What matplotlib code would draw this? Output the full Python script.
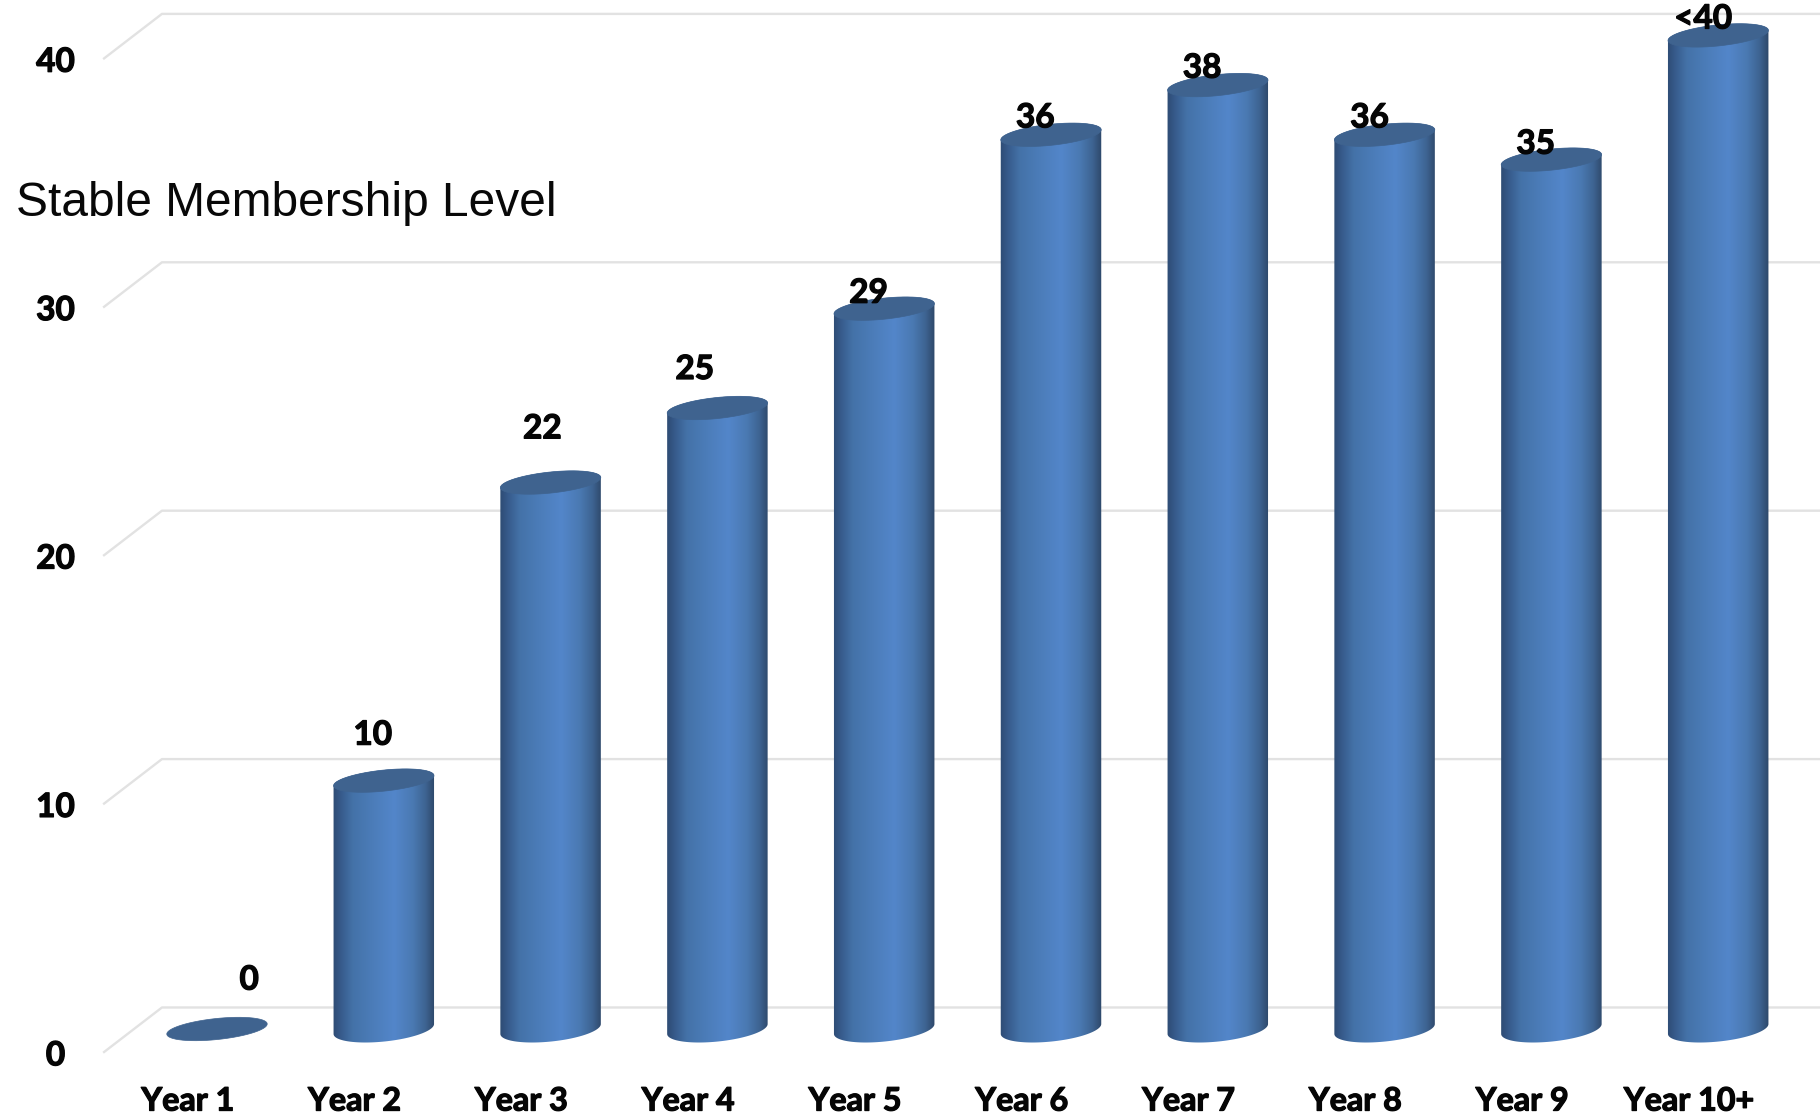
import numpy as np
import matplotlib
matplotlib.use('Agg')
import matplotlib.pyplot as plt
import matplotlib.patheffects as pe
from matplotlib.colors import LinearSegmentedColormap
from matplotlib.patches import PathPatch, Polygon
from matplotlib.path import Path

# datos
years = ['Year 1', 'Year 2', 'Year 3', 'Year 4', 'Year 5', 'Year 6', 'Year 7', 'Year 8', 'Year 9', 'Year 10+']
members = [0, 10, 22, 25, 29, 36, 38, 36, 35, 40]
bar_labels = ['0', '10', '22', '25', '29', '36', '38', '36', '35', '<40']
y_ticks = [0, 10, 20, 30, 40]

# desplazamiento de las etiquetas respecto a la tapa de cada barra
label_dx = [.193, -.066, -.05, -.136, -.094, -.094, -.094, -.09, -.094, -.09]
label_dy = [1.97, 1.83, 2.16, 1.55, .62, .68, .68, .68, .62, .66]

W, H = 1820, 1114
PX_X = 166.8   # pixels por categoria
PX_Y = 24.84   # pixels por unidad
X0, Y0 = 217, 1029
A, B_TOP, B_BASE, TILT = 50.5, 10.5, 12.5, np.radians(6)

fig = plt.figure(figsize=(W / 100, H / 100), dpi=100, facecolor='white')
ax = fig.add_axes([0, 0, 1, 1])
ax.axis('off')

# negrita un poco mas gruesa, Lato queda fina al lado del original
heavy = [pe.withStroke(linewidth=.9, foreground='#050505')]
txt = dict(ha='center', va='center', fontweight='bold', family='Lato', color='#050505', path_effects=heavy)

# piso y lineas de grilla en falsa perspectiva
GRID = '#e2e2e2'
for v in y_ticks:
    ax.plot([-.677, -.33, 10], [v - .926, v + .866, v + .866], color=GRID, lw=1.7, zorder=1)
    ax.text(-.968, v - 1.08, str(v), fontsize=24, zorder=5, **txt)

shade = LinearSegmentedColormap.from_list('cyl', [
    (0, '#2d4a70'), (.08, '#36598a'), (.2, '#4472a8'), (.38, '#4b7cb8'), (.6, '#5386ca'),
    (.78, '#4a79b2'), (.9, '#3e6492'), (1, '#2c4465')])
grad = np.linspace(0, 1, 256).reshape(1, -1)


def ellipse_arc(cx, cy, t0, t1, b):
    t = np.linspace(t0, t1, 60)
    px = A * np.cos(t) * np.cos(TILT) - b * np.sin(t) * np.sin(TILT)
    py = A * np.cos(t) * np.sin(TILT) + b * np.sin(t) * np.cos(TILT)
    return np.column_stack([cx + px / PX_X, cy + py / PX_Y])


def right_end(b):
    return np.arctan2(-b * np.sin(TILT), A * np.cos(TILT))


for i, v in enumerate(members):
    if v > 0:
        t_b, t_t = right_end(B_BASE), right_end(B_TOP)
        verts = np.vstack([ellipse_arc(i, 0, t_b + np.pi, t_b + 2 * np.pi, B_BASE),
                           ellipse_arc(i, v, t_t, t_t + np.pi, B_TOP)])
        body = Polygon(verts, closed=True, transform=ax.transData, fc='none', ec='none')
        ax.add_patch(body)
        im = ax.imshow(grad, cmap=shade, aspect='auto', zorder=3, interpolation='bilinear',
                       extent=[i - .31, i + .31, -1, v + 1])
        im.set_clip_path(body)
    top = ellipse_arc(i, v, 0, 2 * np.pi, B_TOP)
    ax.add_patch(PathPatch(Path(top, closed=False), fc='#3f638f', ec='#3f638f', lw=.5, zorder=4))
    ax.text(i + label_dx[i], v + label_dy[i], bar_labels[i], fontsize=24, zorder=6, **txt)
    ax.text(i - .175, -2.9, years[i], fontsize=23.2, zorder=5, **txt)

ax.set_xlim((0 - X0) / PX_X, (W - X0) / PX_X)
ax.set_ylim((Y0 - H) / PX_Y, Y0 / PX_Y)

fig.text(16 / W, 1 - 203.5 / H, 'Stable Membership Level', fontsize=34.5, family='Liberation Sans',
         color='#080808', ha='left', va='center')

fig.savefig('out.png', dpi=100)
